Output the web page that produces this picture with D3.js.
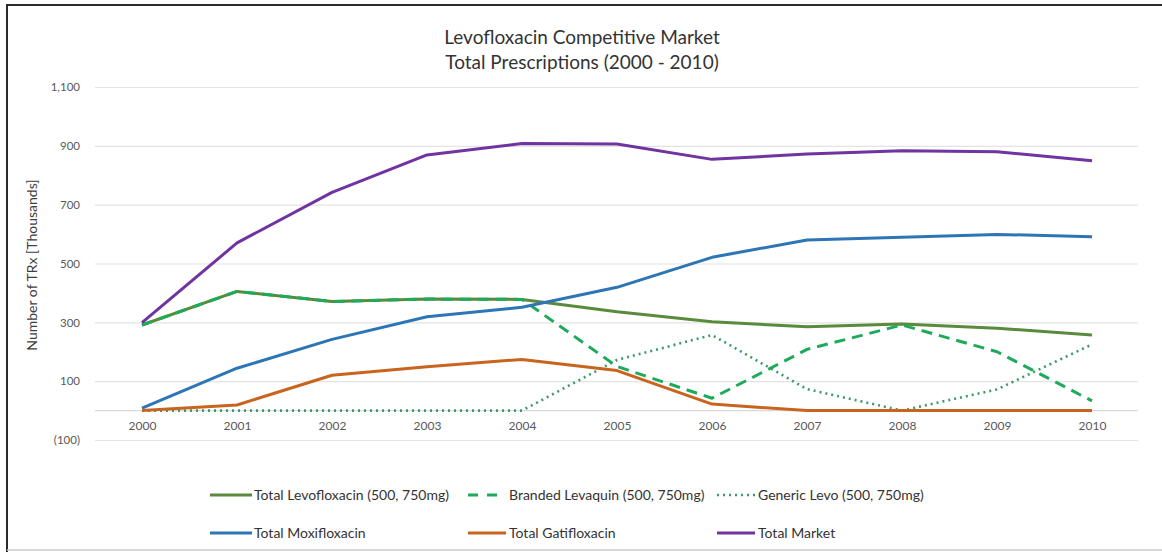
<!DOCTYPE html>
<html>
<head>
<meta charset="utf-8">
<script src="https://cdn.jsdelivr.net/npm/d3@7"></script>
<style>
  body { margin: 0; background: #fff; }
  svg { display: block; font-family: Lato, "Open Sans", sans-serif; }
</style>
</head>
<body>
<svg id="chart" width="1162" height="552"></svg>
<script>
// values in thousands of TRx
const years = [2000, 2001, 2002, 2003, 2004, 2005, 2006, 2007, 2008, 2009, 2010];
const totalLevo = [291, 405, 371, 379, 378, 336, 302, 285, 294, 280, 257];
const brandedLevaquin = [291, 405, 371, 379, 378, 150, 42, 208, 291, 200, 33];
const genericLevo = [0, 0, 0, 0, 0, 172, 257, 73, 0, 72, 225];
const totalMoxi = [8, 144, 242, 319, 351, 419, 521, 580, 589, 599, 591];
const totalGati = [0, 19, 120, 149, 174, 136, 22, 0, 0, 0, 0];
const totalMarket = [299, 570, 742, 869, 908, 906, 854, 872, 883, 880, 849];
const yTicks = [-100, 100, 300, 500, 700, 900, 1100];

const series = [
  {name: "Total Levofloxacin (500, 750mg)", values: totalLevo, color: "#5a8a3c", dash: null, row: 0, lx: 210},
  {name: "Branded Levaquin (500, 750mg)", values: brandedLevaquin, color: "#1eaa5a", dash: "11,7", row: 0, lx: 468},
  {name: "Generic Levo (500, 750mg)", values: genericLevo, color: "#3d9a68", dash: "2,4", row: 0, lx: 717},
  {name: "Total Moxifloxacin", values: totalMoxi, color: "#2e75b6", dash: null, row: 1, lx: 210},
  {name: "Total Gatifloxacin", values: totalGati, color: "#c8641e", dash: null, row: 1, lx: 468},
  {name: "Total Market", values: totalMarket, color: "#7034a0", dash: null, row: 1, lx: 717}
];

const svg = d3.select("#chart");

const x = d3.scalePoint().domain(years).range([142, 1092]);
const y = d3.scaleLinear().domain([-100, 1100]).range([440, 87]);

// frame
svg.append("line").attr("x1", 6).attr("x2", 1162).attr("y1", 5).attr("y2", 5)
  .attr("stroke", "#2b2b2b").attr("stroke-width", 2);
svg.append("line").attr("x1", 7).attr("x2", 7).attr("y1", 4).attr("y2", 552)
  .attr("stroke", "#2b2b2b").attr("stroke-width", 2);
svg.append("line").attr("x1", 7).attr("x2", 1162).attr("y1", 550).attr("y2", 550)
  .attr("stroke", "#c8c8c8").attr("stroke-width", 1.5);

// title
const title = svg.append("text").attr("x", 582).attr("y", 44)
  .attr("text-anchor", "middle").attr("font-size", 19).attr("fill", "#333");
title.append("tspan").attr("x", 582).text("Levofloxacin Competitive Market");
title.append("tspan").attr("x", 582).attr("dy", 25).text("Total Prescriptions (2000 - 2010)");

// y axis: gridlines + labels
const yAxis = svg.append("g").attr("transform", "translate(95,0)")
  .call(d3.axisLeft(y).tickValues(yTicks).tickSize(-1043).tickPadding(15)
    .tickFormat(d => d < 0 ? "(" + d3.format(",")(-d) + ")" : d3.format(",")(d)));
yAxis.select(".domain").remove();
yAxis.selectAll(".tick line").attr("stroke", "#e3e3e3").attr("stroke-width", 1.2);
yAxis.selectAll(".tick text").attr("fill", "#595959").attr("font-size", 11.5)
  .attr("font-family", "Lato, sans-serif");

// x axis at zero
const xAxis = svg.append("g").attr("transform", `translate(0,${y(0)})`)
  .call(d3.axisBottom(x).tickSize(0).tickPadding(11));
xAxis.select(".domain").attr("d", `M95,0H1138`).attr("stroke", "#d9d9d9").attr("stroke-width", 1.2);
xAxis.selectAll(".tick text").attr("fill", "#595959").attr("font-size", 12)
  .attr("font-family", "Lato, sans-serif");

// axis title
svg.append("text").attr("transform", "translate(37,265) rotate(-90)")
  .attr("text-anchor", "middle").attr("font-size", 14).attr("fill", "#404040")
  .text("Number of TRx [Thousands]");

// lines
const line = d3.line().x((d, i) => x(years[i])).y(d => y(d));
svg.append("g").selectAll("path").data(series).join("path")
  .attr("d", d => line(d.values))
  .attr("fill", "none")
  .attr("stroke", d => d.color)
  .attr("stroke-width", d => d.dash === "2,4" ? 2.6 : 3)
  .attr("stroke-dasharray", d => d.dash)
  .attr("stroke-linejoin", "round");

// legend
const legend = svg.append("g").selectAll("g").data(series).join("g")
  .attr("transform", d => `translate(${d.lx},${d.row === 0 ? 495 : 533})`);
legend.append("line").attr("x1", 0).attr("x2", d => d.lx === 210 ? 42 : 38)
  .attr("stroke", d => d.color).attr("stroke-width", d => d.dash === "2,4" ? 2.4 : 3)
  .attr("stroke-dasharray", d => d.dash === "11,7" ? "10,9" : d.dash);
legend.append("text").attr("x", d => d.lx === 210 ? 44 : 41).attr("dy", "0.35em")
  .attr("font-size", 14).attr("fill", "#333").text(d => d.name);
</script>
</body>
</html>
